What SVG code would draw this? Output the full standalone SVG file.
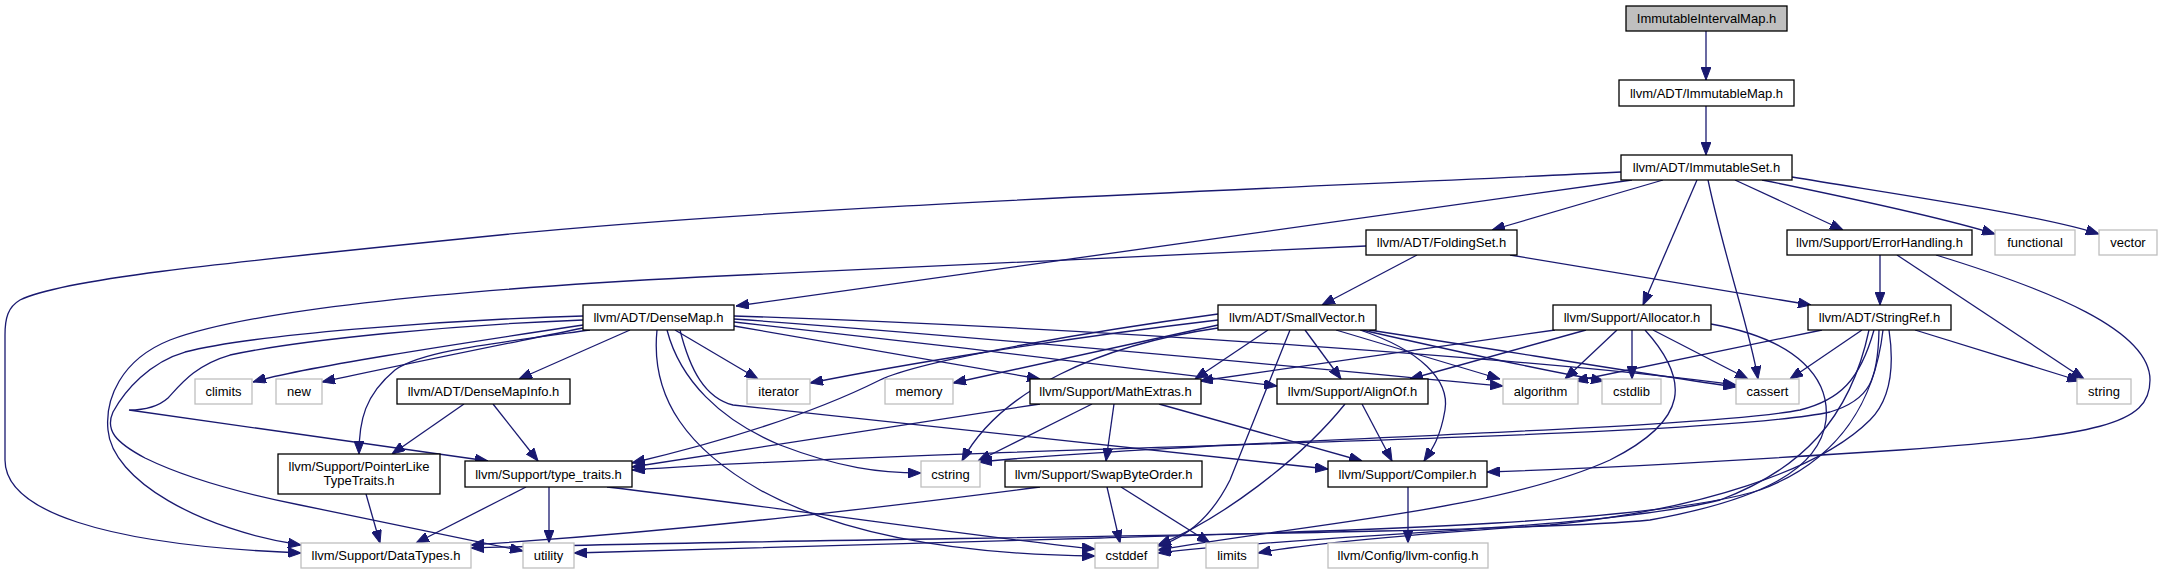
<svg xmlns="http://www.w3.org/2000/svg" width="2164" height="575" viewBox="0 0 2164 575">
<style>
.n rect{fill:#fff;stroke:#000;stroke-width:1.3}
.x rect{fill:#fff;stroke:#bfbfbf;stroke-width:1.3}
.r rect{fill:#bfbfbf;stroke:#000;stroke-width:1.3}
text{font-family:"Liberation Sans",Arial,Helvetica,sans-serif;font-size:13px;fill:#000;text-anchor:middle}
#edges path{fill:none;stroke:#191970;stroke-width:1.3;marker-end:url(#ah)}
</style>
<defs>
<marker id="ah" markerWidth="13" markerHeight="10" refX="13" refY="5" orient="auto" markerUnits="userSpaceOnUse"><path d="M0,0 L13,5 L0,10 z" fill="#191970" stroke="#191970" stroke-width="1"/></marker>
</defs>
<rect width="2164" height="575" fill="#fff"/>
<g id="edges">
<path d="M1706,31 L1706,80"/>
<path d="M1706,106 L1706,155"/>
<path d="M1621,172 C1300,188 800,205 500,235 C200,265 60,280 20,300 C8,307 5,318 5,335 L5,460 C5,510 100,545 301,553"/>
<path d="M1632,180 L736,306"/>
<path d="M1663,180 L1492,230"/>
<path d="M1697,180 L1643,305"/>
<path d="M1708,180 C1725,260 1750,330 1758,379"/>
<path d="M1735,180 L1843,230"/>
<path d="M1762,180 C1850,198 1950,220 1995,234"/>
<path d="M1792,177 C1900,195 2040,215 2099,234"/>
<path d="M1366,246 L700,277 C450,290 250,310 170,340 C120,360 105,400 108,430 C112,480 200,530 301,545"/>
<path d="M1417,255 L1322,305"/>
<path d="M1510,255 L1811,305"/>
<path d="M1880,255 L1880,305"/>
<path d="M1897,255 L2084,379"/>
<path d="M1936,255 C2050,290 2150,330 2150,380 C2150,425 2100,435 1900,450 C1700,463 1550,470 1487,472"/>
<path d="M630,330 L519,379"/>
<path d="M657,330 C650,400 690,450 760,490 C860,545 1000,555 1095,556"/>
<path d="M675,330 L758,379"/>
<path d="M734,326 L1040,379"/>
<path d="M734,322 C900,340 1150,370 1277,386"/>
<path d="M734,319 C1000,338 1350,372 1503,386"/>
<path d="M734,316 C1100,328 1550,360 1736,385"/>
<path d="M680,330 C690,370 705,398 733,405 L1328,469"/>
<path d="M583,320 C450,325 300,340 230,355 C195,365 180,385 168,398 C158,407 145,410 129,410 L488,461"/>
<path d="M583,316 C440,320 250,335 185,352 C150,362 125,390 113,412 C105,430 115,442 145,458 C190,480 250,495 300,505 L523,551"/>
<path d="M583,325 C450,345 300,368 253,382"/>
<path d="M583,328 C500,345 400,365 322,382"/>
<path d="M590,330 C480,345 420,352 395,370 C365,395 359,420 359,454"/>
<path d="M667,330 C680,380 720,420 780,445 C840,468 880,473 921,473"/>
<path d="M1218,320 C1050,340 900,365 810,383"/>
<path d="M1218,325 L953,383"/>
<path d="M1268,330 L1195,379"/>
<path d="M1305,330 L1341,379"/>
<path d="M1336,330 L1500,379"/>
<path d="M1362,330 C1450,350 1540,370 1604,381"/>
<path d="M1369,330 C1500,350 1650,375 1736,387"/>
<path d="M1218,328 C1100,345 1000,390 962,461"/>
<path d="M1218,314 C1100,330 920,360 880,380 C830,405 750,435 632,463"/>
<path d="M1360,330 C1420,350 1450,380 1445,410 C1440,440 1430,452 1424,461"/>
<path d="M1290,330 C1270,380 1250,430 1230,480 C1210,520 1185,538 1158,546"/>
<path d="M1555,330 L1200,381"/>
<path d="M1586,330 L1410,379"/>
<path d="M1617,330 L1565,379"/>
<path d="M1632,330 L1632,379"/>
<path d="M1653,330 L1748,379"/>
<path d="M1645,330 C1690,380 1690,420 1610,460 C1500,510 1300,525 1158,550"/>
<path d="M1711,324 C1800,340 1830,380 1826,420 C1820,470 1760,500 1650,520 C1500,535 800,538 471,548"/>
<path d="M1822,330 L1575,381"/>
<path d="M1862,330 L1790,379"/>
<path d="M1915,330 L2080,381"/>
<path d="M1874,330 C1860,380 1840,400 1800,410 C1700,430 1200,440 979,462"/>
<path d="M1879,330 C1878,380 1870,400 1830,412 C1700,440 1000,445 632,470"/>
<path d="M1883,330 C1875,400 1840,460 1760,490 C1650,525 1300,532 1100,538 C900,543 700,550 574,553"/>
<path d="M1889,330 C1895,370 1890,400 1870,420 C1820,470 1700,510 1550,525 C1400,535 1300,545 1258,553"/>
<path d="M1869,330 C1850,420 1800,470 1720,500 C1600,530 1300,535 1158,553"/>
<path d="M1362,404 L1392,461"/>
<path d="M1345,404 C1300,460 1220,520 1158,545"/>
<path d="M1114,404 L1106,461"/>
<path d="M1092,404 L978,461"/>
<path d="M1159,404 L1362,461"/>
<path d="M1040,404 L632,467"/>
<path d="M464,404 L392,454"/>
<path d="M493,404 L538,461"/>
<path d="M366,494 L380,543"/>
<path d="M526,487 L416,543"/>
<path d="M549,487 L549,543"/>
<path d="M607,487 C800,510 1000,540 1095,549"/>
<path d="M1040,487 C900,505 700,530 471,545"/>
<path d="M1107,487 L1120,543"/>
<path d="M1121,487 L1210,543"/>
<path d="M1408,487 L1408,543"/>
</g>
<g id="n_iim" class="r"><rect x="1626" y="6" width="161" height="25"/><text x="1706.5" y="23">ImmutableIntervalMap.h</text></g>
<g id="n_im" class="n"><rect x="1619" y="80" width="175" height="26"/><text x="1706.5" y="97.5">llvm/ADT/ImmutableMap.h</text></g>
<g id="n_is" class="n"><rect x="1621" y="155" width="171" height="25"/><text x="1706.5" y="172">llvm/ADT/ImmutableSet.h</text></g>
<g id="n_folding" class="n"><rect x="1366" y="230" width="151" height="25"/><text x="1441.5" y="247">llvm/ADT/FoldingSet.h</text></g>
<g id="n_errh" class="n"><rect x="1787" y="230" width="185" height="25"/><text x="1879.5" y="247">llvm/Support/ErrorHandling.h</text></g>
<g id="n_functional" class="x"><rect x="1995" y="230" width="80" height="25"/><text x="2035" y="247">functional</text></g>
<g id="n_vector" class="x"><rect x="2099" y="230" width="58" height="25"/><text x="2128" y="247">vector</text></g>
<g id="n_densemap" class="n"><rect x="583" y="305" width="151" height="25"/><text x="658.5" y="322">llvm/ADT/DenseMap.h</text></g>
<g id="n_smallvector" class="n"><rect x="1218" y="305" width="158" height="25"/><text x="1297" y="322">llvm/ADT/SmallVector.h</text></g>
<g id="n_allocator" class="n"><rect x="1553" y="305" width="158" height="25"/><text x="1632" y="322">llvm/Support/Allocator.h</text></g>
<g id="n_stringref" class="n"><rect x="1808" y="305" width="143" height="25"/><text x="1879.5" y="322">llvm/ADT/StringRef.h</text></g>
<g id="n_climits" class="x"><rect x="195" y="379" width="57" height="25"/><text x="223.5" y="396">climits</text></g>
<g id="n_new" class="x"><rect x="276" y="379" width="46" height="25"/><text x="299" y="396">new</text></g>
<g id="n_densemapinfo" class="n"><rect x="397" y="379" width="173" height="25"/><text x="483.5" y="396">llvm/ADT/DenseMapInfo.h</text></g>
<g id="n_iterator" class="x"><rect x="747" y="379" width="63" height="25"/><text x="778.5" y="396">iterator</text></g>
<g id="n_memory" class="x"><rect x="885" y="379" width="68" height="25"/><text x="919" y="396">memory</text></g>
<g id="n_mathextras" class="n"><rect x="1030" y="379" width="171" height="25"/><text x="1115.5" y="396">llvm/Support/MathExtras.h</text></g>
<g id="n_alignof" class="n"><rect x="1277" y="379" width="151" height="25"/><text x="1352.5" y="396">llvm/Support/AlignOf.h</text></g>
<g id="n_algorithm" class="x"><rect x="1503" y="379" width="75" height="25"/><text x="1540.5" y="396">algorithm</text></g>
<g id="n_cstdlib" class="x"><rect x="1602" y="379" width="59" height="25"/><text x="1631.5" y="396">cstdlib</text></g>
<g id="n_cassert" class="x"><rect x="1736" y="379" width="63" height="25"/><text x="1767.5" y="396">cassert</text></g>
<g id="n_string" class="x"><rect x="2077" y="379" width="54" height="25"/><text x="2104" y="396">string</text></g>
<g id="n_pointerlike" class="n"><rect x="278" y="454" width="162" height="40"/><text x="359" y="470.5">llvm/Support/PointerLike</text><text x="359" y="484.5">TypeTraits.h</text></g>
<g id="n_typetraits" class="n"><rect x="465" y="461" width="167" height="26"/><text x="548.5" y="478.5">llvm/Support/type_traits.h</text></g>
<g id="n_cstring" class="x"><rect x="921" y="461" width="59" height="26"/><text x="950.5" y="478.5">cstring</text></g>
<g id="n_swapbyteorder" class="n"><rect x="1005" y="461" width="197" height="26"/><text x="1103.5" y="478.5">llvm/Support/SwapByteOrder.h</text></g>
<g id="n_compiler" class="n"><rect x="1328" y="461" width="159" height="26"/><text x="1407.5" y="478.5">llvm/Support/Compiler.h</text></g>
<g id="n_datatypes" class="x"><rect x="301" y="543" width="170" height="25"/><text x="386" y="560">llvm/Support/DataTypes.h</text></g>
<g id="n_utility" class="x"><rect x="523" y="543" width="51" height="25"/><text x="548.5" y="560">utility</text></g>
<g id="n_cstddef" class="x"><rect x="1095" y="543" width="63" height="25"/><text x="1126.5" y="560">cstddef</text></g>
<g id="n_limits" class="x"><rect x="1206" y="543" width="52" height="25"/><text x="1232" y="560">limits</text></g>
<g id="n_llvmconfig" class="x"><rect x="1328" y="543" width="160" height="25"/><text x="1408" y="560">llvm/Config/llvm-config.h</text></g>
</svg>
